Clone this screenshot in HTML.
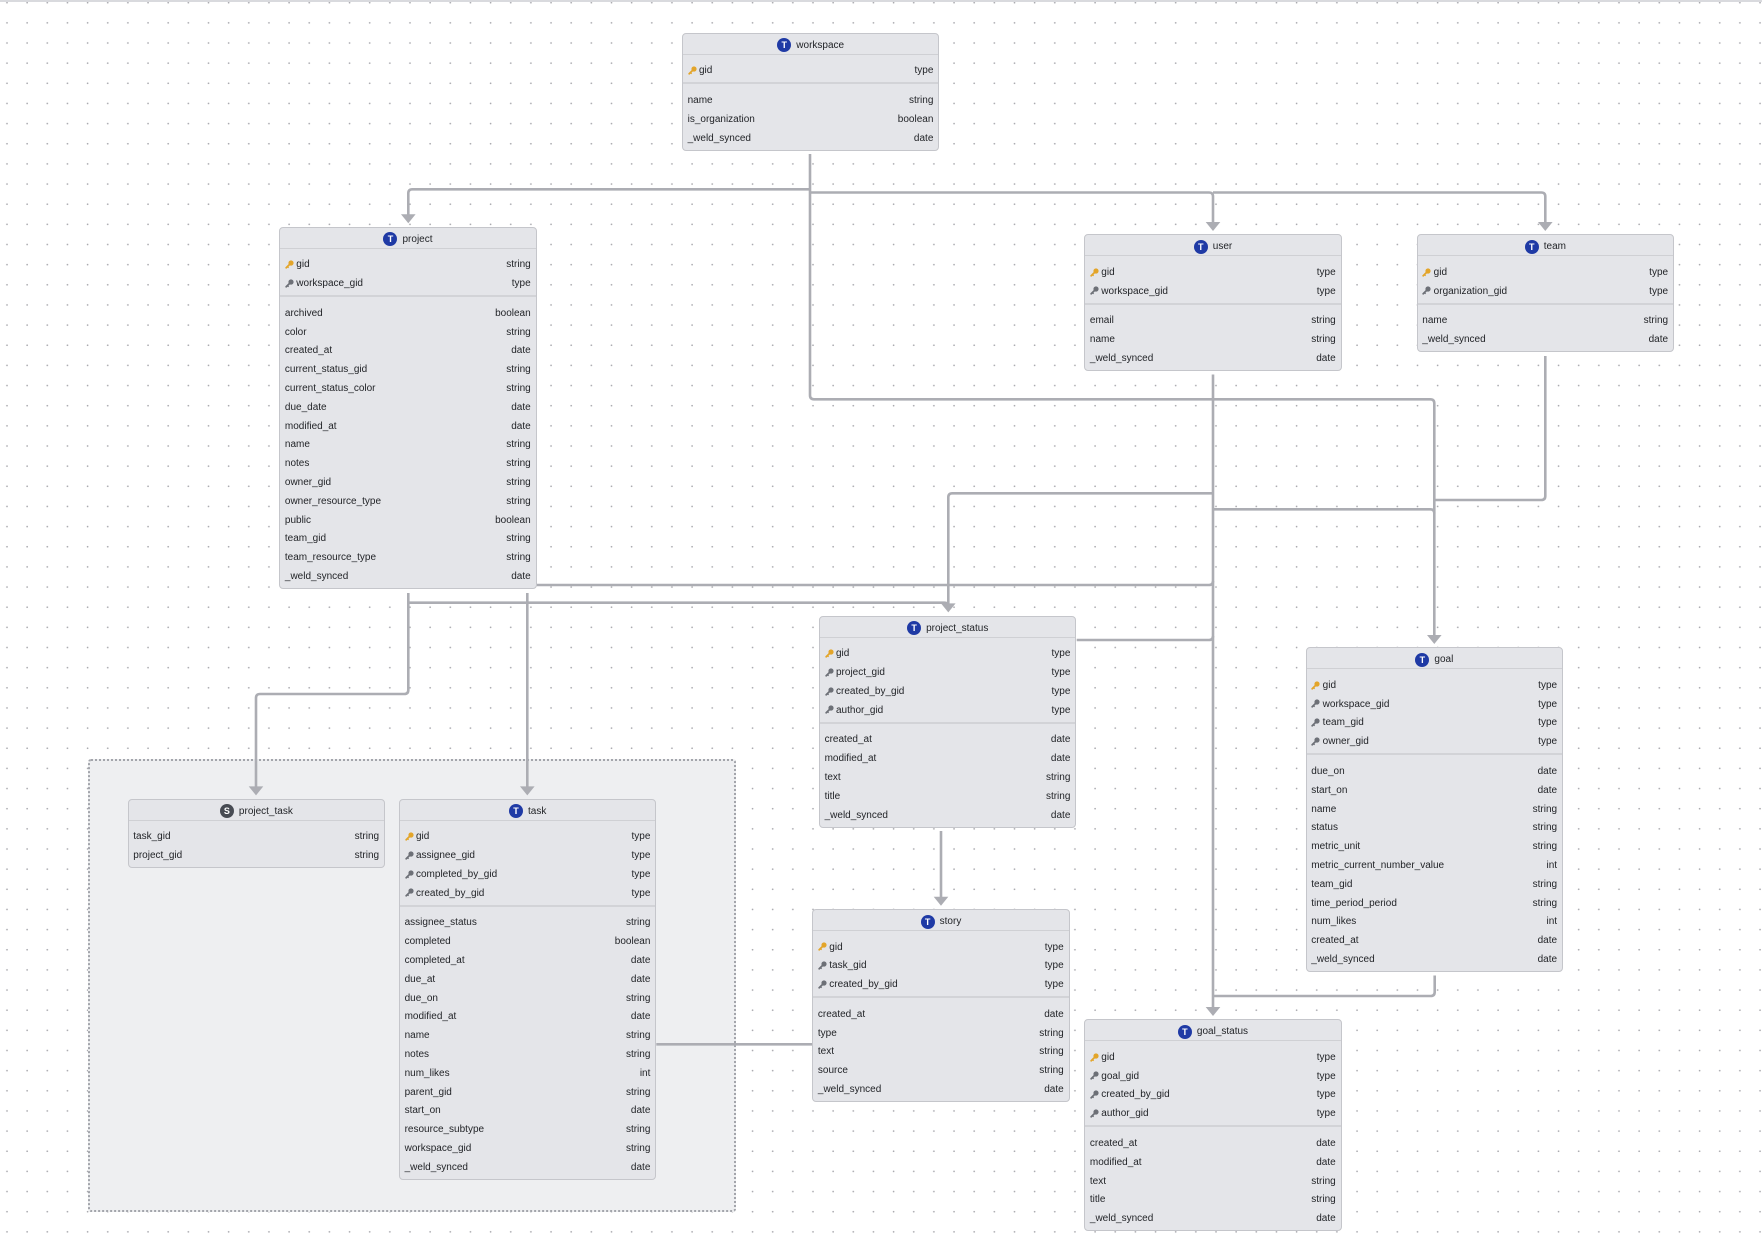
<!DOCTYPE html>
<html><head><meta charset="utf-8">
<style>
html,body{margin:0;padding:0;}
body{width:1762px;height:1250px;position:relative;overflow:hidden;background:#fff;font-family:"Liberation Sans",sans-serif;}
.topline{position:absolute;left:0;top:0;width:1762px;height:1.5px;background:#d9dade;}
.grp{position:absolute;left:88.3px;top:759px;width:647.4px;height:452.7px;box-sizing:border-box;border:2px dotted #a3a5ab;border-radius:3px;background:#eeeff1;}
.box{position:absolute;width:257.4px;box-sizing:border-box;border:1px solid #c5c6cb;border-radius:4px;background:#e4e5e9;font-size:10px;color:#222428;}
.h{height:17px;padding-top:3px;border-bottom:1px solid #cfd0d4;display:flex;align-items:center;justify-content:center;white-space:nowrap;}
.h i{display:inline-block;width:14px;height:14px;border-radius:50%;background:#1f3aa5;color:#fff;font-style:normal;font-weight:bold;font-size:9px;line-height:14px;text-align:center;margin-right:5px;}
.h i.s{background:#474b53;}
.sec{padding:5px 0 4px;}
.dv{height:2px;background:#d2d3d7;}
.r{height:18.8px;line-height:18.8px;display:flex;justify-content:space-between;padding:0 5px 0 4.6px;white-space:nowrap;}
.r span{display:flex;align-items:center;position:relative;top:2.5px;}
.r svg{margin-right:2.4px;position:relative;top:-1px;}
</style></head>
<body>
<svg style="position:absolute;left:0;top:0" width="1762" height="1250">
<defs><pattern id="dots" patternUnits="userSpaceOnUse" x="0" y="0" width="20.15" height="20.15"><circle cx="7" cy="2.7" r="0.85" fill="#a8a8ad"/></pattern></defs>
<rect width="1762" height="1250" fill="url(#dots)"/>
</svg>
<div class="topline"></div>
<div class="grp"></div>

<svg style="position:absolute;left:0;top:0" width="1762" height="1250">
<g fill="none" stroke="#acadb3" stroke-width="2.6">
<path d="M810,154 V395.3 Q810,399.3 814,399.3 H1430.3 Q1434.3,399.3 1434.3,403.3 V636"/>
<path d="M810,189.3 H412.3 Q408.3,189.3 408.3,193.3 V215"/>
<path d="M810,192.5 H1209 Q1213,192.5 1213,196.5 V223"/>
<path d="M1213,192.5 H1541.3 Q1545.3,192.5 1545.3,196.5 V223"/>
<path d="M1213,374.5 V1008"/>
<path d="M1213,493.3 H952.3 Q948.3,493.3 948.3,497.3 V604"/>
<path d="M408.3,602.7 H944.3 Q948.3,602.7 948.3,606.7"/>
<path d="M408.3,593 V690 Q408.3,694 404.3,694 H260 Q256,694 256,698 V787"/>
<path d="M527.3,593 V787"/>
<path d="M536.7,585 H1209 Q1213,585 1213,581"/>
<path d="M1076.7,640 H1209 Q1213,640 1213,636"/>
<path d="M1545.3,356 V496 Q1545.3,500 1541.3,500 H1434.3"/>
<path d="M1213,509.3 H1430.3 Q1434.3,509.3 1434.3,513.3"/>
<path d="M941,831 V897"/>
<path d="M656.3,1044.3 H812.3"/>
<path d="M1434.7,975.5 V992 Q1434.7,996 1430.7,996 H1213"/>
</g>
<g fill="#acadb3">
<polygon points="401,214.3 415.6,214.3 408.3,223.3"/>
<polygon points="1205.7,222 1220.3,222 1213,231"/>
<polygon points="1538,222 1552.6,222 1545.3,231"/>
<polygon points="1427,635 1441.6,635 1434.3,644"/>
<polygon points="941,603.4 955.6,603.4 948.3,612.4"/>
<polygon points="248.7,786.4 263.3,786.4 256,795.4"/>
<polygon points="520,786.4 534.6,786.4 527.3,795.4"/>
<polygon points="933.7,896.7 948.3,896.7 941,905.7"/>
<polygon points="1205.7,1007 1220.3,1007 1213,1016"/>
</g>
</svg>

<!-- workspace -->
<div class="box" style="left:682px;top:32.7px">
<div class="h"><i>T</i>workspace</div>
<div class="sec">
<div class="r"><span><svg width="9" height="9" viewBox="0 0 9 9"><circle cx="6" cy="3" r="2.6" fill="#e3a52a"/><path d="M5 4L1.2 7.8" stroke="#e3a52a" stroke-width="1.8" stroke-linecap="round"/><path d="M2.4 6.6L3.6 7.8" stroke="#e3a52a" stroke-width="1.3"/></svg>gid</span><span>type</span></div>
</div><div class="dv"></div>
<div class="sec">
<div class="r"><span>name</span><span>string</span></div>
<div class="r"><span>is_organization</span><span>boolean</span></div>
<div class="r"><span>_weld_synced</span><span>date</span></div>
</div></div>

<!-- project -->
<div class="box" style="left:279.3px;top:226.7px">
<div class="h"><i>T</i>project</div>
<div class="sec">
<div class="r"><span><svg width="9" height="9" viewBox="0 0 9 9"><circle cx="6" cy="3" r="2.6" fill="#e3a52a"/><path d="M5 4L1.2 7.8" stroke="#e3a52a" stroke-width="1.8" stroke-linecap="round"/><path d="M2.4 6.6L3.6 7.8" stroke="#e3a52a" stroke-width="1.3"/></svg>gid</span><span>string</span></div>
<div class="r"><span><svg width="9" height="9" viewBox="0 0 9 9"><circle cx="6" cy="3" r="2.6" fill="#6d7077"/><path d="M5 4L1.2 7.8" stroke="#6d7077" stroke-width="1.8" stroke-linecap="round"/><path d="M2.4 6.6L3.6 7.8" stroke="#6d7077" stroke-width="1.3"/></svg>workspace_gid</span><span>type</span></div>
</div><div class="dv"></div>
<div class="sec">
<div class="r"><span>archived</span><span>boolean</span></div>
<div class="r"><span>color</span><span>string</span></div>
<div class="r"><span>created_at</span><span>date</span></div>
<div class="r"><span>current_status_gid</span><span>string</span></div>
<div class="r"><span>current_status_color</span><span>string</span></div>
<div class="r"><span>due_date</span><span>date</span></div>
<div class="r"><span>modified_at</span><span>date</span></div>
<div class="r"><span>name</span><span>string</span></div>
<div class="r"><span>notes</span><span>string</span></div>
<div class="r"><span>owner_gid</span><span>string</span></div>
<div class="r"><span>owner_resource_type</span><span>string</span></div>
<div class="r"><span>public</span><span>boolean</span></div>
<div class="r"><span>team_gid</span><span>string</span></div>
<div class="r"><span>team_resource_type</span><span>string</span></div>
<div class="r"><span>_weld_synced</span><span>date</span></div>
</div></div>

<!-- user -->
<div class="box" style="left:1084.3px;top:234.3px">
<div class="h"><i>T</i>user</div>
<div class="sec">
<div class="r"><span><svg width="9" height="9" viewBox="0 0 9 9"><circle cx="6" cy="3" r="2.6" fill="#e3a52a"/><path d="M5 4L1.2 7.8" stroke="#e3a52a" stroke-width="1.8" stroke-linecap="round"/><path d="M2.4 6.6L3.6 7.8" stroke="#e3a52a" stroke-width="1.3"/></svg>gid</span><span>type</span></div>
<div class="r"><span><svg width="9" height="9" viewBox="0 0 9 9"><circle cx="6" cy="3" r="2.6" fill="#6d7077"/><path d="M5 4L1.2 7.8" stroke="#6d7077" stroke-width="1.8" stroke-linecap="round"/><path d="M2.4 6.6L3.6 7.8" stroke="#6d7077" stroke-width="1.3"/></svg>workspace_gid</span><span>type</span></div>
</div><div class="dv"></div>
<div class="sec">
<div class="r"><span>email</span><span>string</span></div>
<div class="r"><span>name</span><span>string</span></div>
<div class="r"><span>_weld_synced</span><span>date</span></div>
</div></div>

<!-- team -->
<div class="box" style="left:1416.7px;top:234.3px">
<div class="h"><i>T</i>team</div>
<div class="sec">
<div class="r"><span><svg width="9" height="9" viewBox="0 0 9 9"><circle cx="6" cy="3" r="2.6" fill="#e3a52a"/><path d="M5 4L1.2 7.8" stroke="#e3a52a" stroke-width="1.8" stroke-linecap="round"/><path d="M2.4 6.6L3.6 7.8" stroke="#e3a52a" stroke-width="1.3"/></svg>gid</span><span>type</span></div>
<div class="r"><span><svg width="9" height="9" viewBox="0 0 9 9"><circle cx="6" cy="3" r="2.6" fill="#6d7077"/><path d="M5 4L1.2 7.8" stroke="#6d7077" stroke-width="1.8" stroke-linecap="round"/><path d="M2.4 6.6L3.6 7.8" stroke="#6d7077" stroke-width="1.3"/></svg>organization_gid</span><span>type</span></div>
</div><div class="dv"></div>
<div class="sec">
<div class="r"><span>name</span><span>string</span></div>
<div class="r"><span>_weld_synced</span><span>date</span></div>
</div></div>

<!-- project_status -->
<div class="box" style="left:819px;top:615.7px">
<div class="h"><i>T</i>project_status</div>
<div class="sec">
<div class="r"><span><svg width="9" height="9" viewBox="0 0 9 9"><circle cx="6" cy="3" r="2.6" fill="#e3a52a"/><path d="M5 4L1.2 7.8" stroke="#e3a52a" stroke-width="1.8" stroke-linecap="round"/><path d="M2.4 6.6L3.6 7.8" stroke="#e3a52a" stroke-width="1.3"/></svg>gid</span><span>type</span></div>
<div class="r"><span><svg width="9" height="9" viewBox="0 0 9 9"><circle cx="6" cy="3" r="2.6" fill="#6d7077"/><path d="M5 4L1.2 7.8" stroke="#6d7077" stroke-width="1.8" stroke-linecap="round"/><path d="M2.4 6.6L3.6 7.8" stroke="#6d7077" stroke-width="1.3"/></svg>project_gid</span><span>type</span></div>
<div class="r"><span><svg width="9" height="9" viewBox="0 0 9 9"><circle cx="6" cy="3" r="2.6" fill="#6d7077"/><path d="M5 4L1.2 7.8" stroke="#6d7077" stroke-width="1.8" stroke-linecap="round"/><path d="M2.4 6.6L3.6 7.8" stroke="#6d7077" stroke-width="1.3"/></svg>created_by_gid</span><span>type</span></div>
<div class="r"><span><svg width="9" height="9" viewBox="0 0 9 9"><circle cx="6" cy="3" r="2.6" fill="#6d7077"/><path d="M5 4L1.2 7.8" stroke="#6d7077" stroke-width="1.8" stroke-linecap="round"/><path d="M2.4 6.6L3.6 7.8" stroke="#6d7077" stroke-width="1.3"/></svg>author_gid</span><span>type</span></div>
</div><div class="dv"></div>
<div class="sec">
<div class="r"><span>created_at</span><span>date</span></div>
<div class="r"><span>modified_at</span><span>date</span></div>
<div class="r"><span>text</span><span>string</span></div>
<div class="r"><span>title</span><span>string</span></div>
<div class="r"><span>_weld_synced</span><span>date</span></div>
</div></div>

<!-- goal -->
<div class="box" style="left:1305.7px;top:647.3px">
<div class="h"><i>T</i>goal</div>
<div class="sec">
<div class="r"><span><svg width="9" height="9" viewBox="0 0 9 9"><circle cx="6" cy="3" r="2.6" fill="#e3a52a"/><path d="M5 4L1.2 7.8" stroke="#e3a52a" stroke-width="1.8" stroke-linecap="round"/><path d="M2.4 6.6L3.6 7.8" stroke="#e3a52a" stroke-width="1.3"/></svg>gid</span><span>type</span></div>
<div class="r"><span><svg width="9" height="9" viewBox="0 0 9 9"><circle cx="6" cy="3" r="2.6" fill="#6d7077"/><path d="M5 4L1.2 7.8" stroke="#6d7077" stroke-width="1.8" stroke-linecap="round"/><path d="M2.4 6.6L3.6 7.8" stroke="#6d7077" stroke-width="1.3"/></svg>workspace_gid</span><span>type</span></div>
<div class="r"><span><svg width="9" height="9" viewBox="0 0 9 9"><circle cx="6" cy="3" r="2.6" fill="#6d7077"/><path d="M5 4L1.2 7.8" stroke="#6d7077" stroke-width="1.8" stroke-linecap="round"/><path d="M2.4 6.6L3.6 7.8" stroke="#6d7077" stroke-width="1.3"/></svg>team_gid</span><span>type</span></div>
<div class="r"><span><svg width="9" height="9" viewBox="0 0 9 9"><circle cx="6" cy="3" r="2.6" fill="#6d7077"/><path d="M5 4L1.2 7.8" stroke="#6d7077" stroke-width="1.8" stroke-linecap="round"/><path d="M2.4 6.6L3.6 7.8" stroke="#6d7077" stroke-width="1.3"/></svg>owner_gid</span><span>type</span></div>
</div><div class="dv"></div>
<div class="sec">
<div class="r"><span>due_on</span><span>date</span></div>
<div class="r"><span>start_on</span><span>date</span></div>
<div class="r"><span>name</span><span>string</span></div>
<div class="r"><span>status</span><span>string</span></div>
<div class="r"><span>metric_unit</span><span>string</span></div>
<div class="r"><span>metric_current_number_value</span><span>int</span></div>
<div class="r"><span>team_gid</span><span>string</span></div>
<div class="r"><span>time_period_period</span><span>string</span></div>
<div class="r"><span>num_likes</span><span>int</span></div>
<div class="r"><span>created_at</span><span>date</span></div>
<div class="r"><span>_weld_synced</span><span>date</span></div>
</div></div>

<!-- story -->
<div class="box" style="left:812.3px;top:909px">
<div class="h"><i>T</i>story</div>
<div class="sec">
<div class="r"><span><svg width="9" height="9" viewBox="0 0 9 9"><circle cx="6" cy="3" r="2.6" fill="#e3a52a"/><path d="M5 4L1.2 7.8" stroke="#e3a52a" stroke-width="1.8" stroke-linecap="round"/><path d="M2.4 6.6L3.6 7.8" stroke="#e3a52a" stroke-width="1.3"/></svg>gid</span><span>type</span></div>
<div class="r"><span><svg width="9" height="9" viewBox="0 0 9 9"><circle cx="6" cy="3" r="2.6" fill="#6d7077"/><path d="M5 4L1.2 7.8" stroke="#6d7077" stroke-width="1.8" stroke-linecap="round"/><path d="M2.4 6.6L3.6 7.8" stroke="#6d7077" stroke-width="1.3"/></svg>task_gid</span><span>type</span></div>
<div class="r"><span><svg width="9" height="9" viewBox="0 0 9 9"><circle cx="6" cy="3" r="2.6" fill="#6d7077"/><path d="M5 4L1.2 7.8" stroke="#6d7077" stroke-width="1.8" stroke-linecap="round"/><path d="M2.4 6.6L3.6 7.8" stroke="#6d7077" stroke-width="1.3"/></svg>created_by_gid</span><span>type</span></div>
</div><div class="dv"></div>
<div class="sec">
<div class="r"><span>created_at</span><span>date</span></div>
<div class="r"><span>type</span><span>string</span></div>
<div class="r"><span>text</span><span>string</span></div>
<div class="r"><span>source</span><span>string</span></div>
<div class="r"><span>_weld_synced</span><span>date</span></div>
</div></div>

<!-- goal_status -->
<div class="box" style="left:1084.3px;top:1019.3px">
<div class="h"><i>T</i>goal_status</div>
<div class="sec">
<div class="r"><span><svg width="9" height="9" viewBox="0 0 9 9"><circle cx="6" cy="3" r="2.6" fill="#e3a52a"/><path d="M5 4L1.2 7.8" stroke="#e3a52a" stroke-width="1.8" stroke-linecap="round"/><path d="M2.4 6.6L3.6 7.8" stroke="#e3a52a" stroke-width="1.3"/></svg>gid</span><span>type</span></div>
<div class="r"><span><svg width="9" height="9" viewBox="0 0 9 9"><circle cx="6" cy="3" r="2.6" fill="#6d7077"/><path d="M5 4L1.2 7.8" stroke="#6d7077" stroke-width="1.8" stroke-linecap="round"/><path d="M2.4 6.6L3.6 7.8" stroke="#6d7077" stroke-width="1.3"/></svg>goal_gid</span><span>type</span></div>
<div class="r"><span><svg width="9" height="9" viewBox="0 0 9 9"><circle cx="6" cy="3" r="2.6" fill="#6d7077"/><path d="M5 4L1.2 7.8" stroke="#6d7077" stroke-width="1.8" stroke-linecap="round"/><path d="M2.4 6.6L3.6 7.8" stroke="#6d7077" stroke-width="1.3"/></svg>created_by_gid</span><span>type</span></div>
<div class="r"><span><svg width="9" height="9" viewBox="0 0 9 9"><circle cx="6" cy="3" r="2.6" fill="#6d7077"/><path d="M5 4L1.2 7.8" stroke="#6d7077" stroke-width="1.8" stroke-linecap="round"/><path d="M2.4 6.6L3.6 7.8" stroke="#6d7077" stroke-width="1.3"/></svg>author_gid</span><span>type</span></div>
</div><div class="dv"></div>
<div class="sec">
<div class="r"><span>created_at</span><span>date</span></div>
<div class="r"><span>modified_at</span><span>date</span></div>
<div class="r"><span>text</span><span>string</span></div>
<div class="r"><span>title</span><span>string</span></div>
<div class="r"><span>_weld_synced</span><span>date</span></div>
</div></div>

<!-- project_task -->
<div class="box" style="left:127.7px;top:798.7px">
<div class="h"><i class="s">S</i>project_task</div>
<div class="sec">
<div class="r"><span>task_gid</span><span>string</span></div>
<div class="r"><span>project_gid</span><span>string</span></div>
</div></div>

<!-- task -->
<div class="box" style="left:399px;top:798.7px">
<div class="h"><i>T</i>task</div>
<div class="sec">
<div class="r"><span><svg width="9" height="9" viewBox="0 0 9 9"><circle cx="6" cy="3" r="2.6" fill="#e3a52a"/><path d="M5 4L1.2 7.8" stroke="#e3a52a" stroke-width="1.8" stroke-linecap="round"/><path d="M2.4 6.6L3.6 7.8" stroke="#e3a52a" stroke-width="1.3"/></svg>gid</span><span>type</span></div>
<div class="r"><span><svg width="9" height="9" viewBox="0 0 9 9"><circle cx="6" cy="3" r="2.6" fill="#6d7077"/><path d="M5 4L1.2 7.8" stroke="#6d7077" stroke-width="1.8" stroke-linecap="round"/><path d="M2.4 6.6L3.6 7.8" stroke="#6d7077" stroke-width="1.3"/></svg>assignee_gid</span><span>type</span></div>
<div class="r"><span><svg width="9" height="9" viewBox="0 0 9 9"><circle cx="6" cy="3" r="2.6" fill="#6d7077"/><path d="M5 4L1.2 7.8" stroke="#6d7077" stroke-width="1.8" stroke-linecap="round"/><path d="M2.4 6.6L3.6 7.8" stroke="#6d7077" stroke-width="1.3"/></svg>completed_by_gid</span><span>type</span></div>
<div class="r"><span><svg width="9" height="9" viewBox="0 0 9 9"><circle cx="6" cy="3" r="2.6" fill="#6d7077"/><path d="M5 4L1.2 7.8" stroke="#6d7077" stroke-width="1.8" stroke-linecap="round"/><path d="M2.4 6.6L3.6 7.8" stroke="#6d7077" stroke-width="1.3"/></svg>created_by_gid</span><span>type</span></div>
</div><div class="dv"></div>
<div class="sec">
<div class="r"><span>assignee_status</span><span>string</span></div>
<div class="r"><span>completed</span><span>boolean</span></div>
<div class="r"><span>completed_at</span><span>date</span></div>
<div class="r"><span>due_at</span><span>date</span></div>
<div class="r"><span>due_on</span><span>string</span></div>
<div class="r"><span>modified_at</span><span>date</span></div>
<div class="r"><span>name</span><span>string</span></div>
<div class="r"><span>notes</span><span>string</span></div>
<div class="r"><span>num_likes</span><span>int</span></div>
<div class="r"><span>parent_gid</span><span>string</span></div>
<div class="r"><span>start_on</span><span>date</span></div>
<div class="r"><span>resource_subtype</span><span>string</span></div>
<div class="r"><span>workspace_gid</span><span>string</span></div>
<div class="r"><span>_weld_synced</span><span>date</span></div>
</div></div>

</body></html>
